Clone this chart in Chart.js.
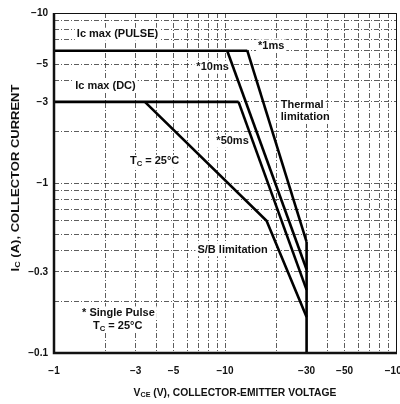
<!DOCTYPE html>
<html>
<head>
<meta charset="utf-8">
<script src="https://cdn.jsdelivr.net/npm/chart.js@4.4.1/dist/chart.umd.min.js"></script>
<style>
  html, body { margin: 0; padding: 0; background: #fff; }
  canvas { display: block; }
</style>
</head>
<body>
<canvas id="soa" width="400" height="404"></canvas>
<script>
// safe operating area - values stored as magnitudes, the minus sign is added on the labels
const xTicks = [1, 2, 3, 4, 5, 6, 7, 8, 9, 10, 20, 30, 40, 50, 60, 70, 80, 90, 100];
const xLabeled = [1, 3, 5, 10, 30, 50, 100];
const yTicks = [0.1, 0.2, 0.3, 0.4, 0.5, 0.6, 0.7, 0.8, 0.9, 1, 2, 3, 4, 5, 6, 7, 8, 9, 10];
const yLabeled = [0.1, 0.3, 1, 3, 5, 10];

const pulseV = [1, 13.5];    const pulseI = [6, 6];
const dcV = [1, 12];         const dcI = [3, 3];
const ms1V = [13.5, 30];     const ms1I = [6, 0.45];
const ms10V = [10.3, 30];    const ms10I = [6, 0.31];
const ms50V = [12, 30];      const ms50I = [3, 0.235];
const tcV = [3.4, 17.5, 30]; const tcI = [3, 0.6, 0.163];
const limitV = [30, 30];     const limitI = [0.45, 0.1];

// text notes, anchored (left, middle) at data coordinates; [text, isSubscript]
const notes = [
  { parts: [["Ic max (PULSE)", 0]], v: 1.36, i: 7.5 },
  { parts: [["Ic max (DC)", 0]], v: 1.33, i: 3.7 },
  { parts: [["*1ms", 0]], v: 15.6, i: 6.4 },
  { parts: [["*10ms", 0]], v: 6.8, i: 4.8 },
  { parts: [["Thermal", 0]], v: 21.2, i: 2.87 },
  { parts: [["limitation", 0]], v: 21.2, i: 2.43 },
  { parts: [["*50ms", 0]], v: 8.9, i: 1.76 },
  { parts: [["T", 0], ["C", 1], [" = 25°C", 0]], v: 2.78, i: 1.34 },
  { parts: [["S/B limitation", 0]], v: 6.9, i: 0.405 },
  { parts: [["* Single Pulse", 0]], v: 1.46, i: 0.172 },
  { parts: [["T", 0], ["C", 1], [" = 25°C", 0]], v: 1.69, i: 0.144 },
];

const FONT = "'Liberation Sans', Arial, sans-serif";

function toPoints(vs, is) {
  return vs.map((v, k) => ({ x: v, y: is[k] }));
}

function lineSet(vs, is) {
  return {
    data: toPoints(vs, is),
    showLine: true,
    borderColor: "#000",
    borderWidth: 2.6,
    pointRadius: 0,
    fill: false,
    tension: 0,
    clip: false,
  };
}

function partsWidth(ctx, parts, size) {
  let w = 0;
  parts.forEach(([t, sub]) => {
    ctx.font = `bold ${sub ? size * 0.7 : size}px ${FONT}`;
    w += ctx.measureText(t).width;
  });
  return w;
}

function drawParts(ctx, parts, x, y, size) {
  let cx = x;
  parts.forEach(([t, sub]) => {
    ctx.font = `bold ${sub ? size * 0.7 : size}px ${FONT}`;
    ctx.fillText(t, cx, sub ? y + size * 0.22 : y);
    cx += ctx.measureText(t).width;
  });
}

const paperPlugin = {
  id: "paper",
  beforeDatasetsDraw(chart) {
    const { ctx, scales: { x, y } } = chart;
    ctx.save();
    ctx.textBaseline = "middle";
    notes.forEach((n) => {
      const px = x.getPixelForValue(n.v);
      const py = y.getPixelForValue(n.i);
      const w = partsWidth(ctx, n.parts, 11);
      ctx.fillStyle = "#fff";
      ctx.fillRect(px - 2, py - 6.5, w + 4, 13);
      ctx.fillStyle = "#111";
      drawParts(ctx, n.parts, px, py, 11);
    });
    ctx.restore();
  },
  afterDraw(chart) {
    const { ctx, chartArea: a } = chart;
    ctx.save();
    ctx.strokeStyle = "#111";
    ctx.lineWidth = 1;
    ctx.beginPath();
    ctx.moveTo(a.left, a.top + 0.5);
    ctx.lineTo(a.right + 0.5, a.top + 0.5);
    ctx.lineTo(a.right + 0.5, a.bottom);
    ctx.stroke();
    ctx.lineWidth = 2.5;
    ctx.beginPath();
    ctx.moveTo(a.left, a.top);
    ctx.lineTo(a.left, a.bottom);
    ctx.lineTo(a.right + 1, a.bottom);
    ctx.stroke();

    ctx.fillStyle = "#111";
    ctx.textBaseline = "middle";
    // x title
    const xParts = [["V", 0], ["CE", 1], [" (V), COLLECTOR-EMITTER VOLTAGE", 0]];
    const xw = partsWidth(ctx, xParts, 10);
    ctx.save();
    ctx.translate(235, 393);
    ctx.scale(1.03, 1);
    drawParts(ctx, xParts, -xw / 2, 0, 10);
    ctx.restore();
    // y title, the print uses a wide letterform
    const yParts = [["I", 0], ["C", 1], [" (A), COLLECTOR CURRENT", 0]];
    const yw = partsWidth(ctx, yParts, 10);
    ctx.translate(16, 178);
    ctx.rotate(-Math.PI / 2);
    ctx.scale(1.3, 1);
    drawParts(ctx, yParts, -yw / 2, 0, 10);
    ctx.restore();
  },
};

const gridStyle = { color: "#333", lineWidth: 0.8, drawTicks: false };

new Chart(document.getElementById("soa").getContext("2d"), {
  type: "scatter",
  data: {
    datasets: [
      lineSet(pulseV, pulseI),
      lineSet(dcV, dcI),
      lineSet(ms1V, ms1I),
      lineSet(ms10V, ms10I),
      lineSet(ms50V, ms50I),
      lineSet(tcV, tcI),
      lineSet(limitV, limitI),
    ],
  },
  options: {
    responsive: false,
    animation: false,
    layout: { padding: { left: 0, right: 4, top: 13, bottom: 0 } },
    plugins: { legend: { display: false }, tooltip: { enabled: false } },
    scales: {
      x: {
        type: "logarithmic",
        min: 1,
        max: 100,
        afterBuildTicks: (s) => { s.ticks = xTicks.map((v) => ({ value: v })); },
        afterFit: (s) => { s.height = 51; s.paddingLeft = 0; s.paddingRight = 0; },
        grid: gridStyle,
        border: { display: false, dash: [5, 2, 1, 2] },
        ticks: {
          autoSkip: false,
          maxRotation: 0,
          padding: 12,
          color: "#111",
          font: { family: FONT, size: 10, weight: "bold" },
          callback: (v) => (xLabeled.includes(v) ? "\u2212" + v : ""),
        },
      },
      y: {
        type: "logarithmic",
        min: 0.1,
        max: 10,
        afterBuildTicks: (s) => { s.ticks = yTicks.map((v) => ({ value: v })); },
        afterFit: (s) => { s.width = 54; s.paddingTop = 0; s.paddingBottom = 0; },
        grid: gridStyle,
        border: { display: false, dash: [5, 2, 1, 2] },
        ticks: {
          autoSkip: false,
          padding: 6,
          color: "#111",
          font: { family: FONT, size: 10, weight: "bold" },
          callback: (v) => (yLabeled.includes(v) ? "\u2212" + v : ""),
        },
      },
    },
  },
  plugins: [paperPlugin],
});
</script>
</body>
</html>
